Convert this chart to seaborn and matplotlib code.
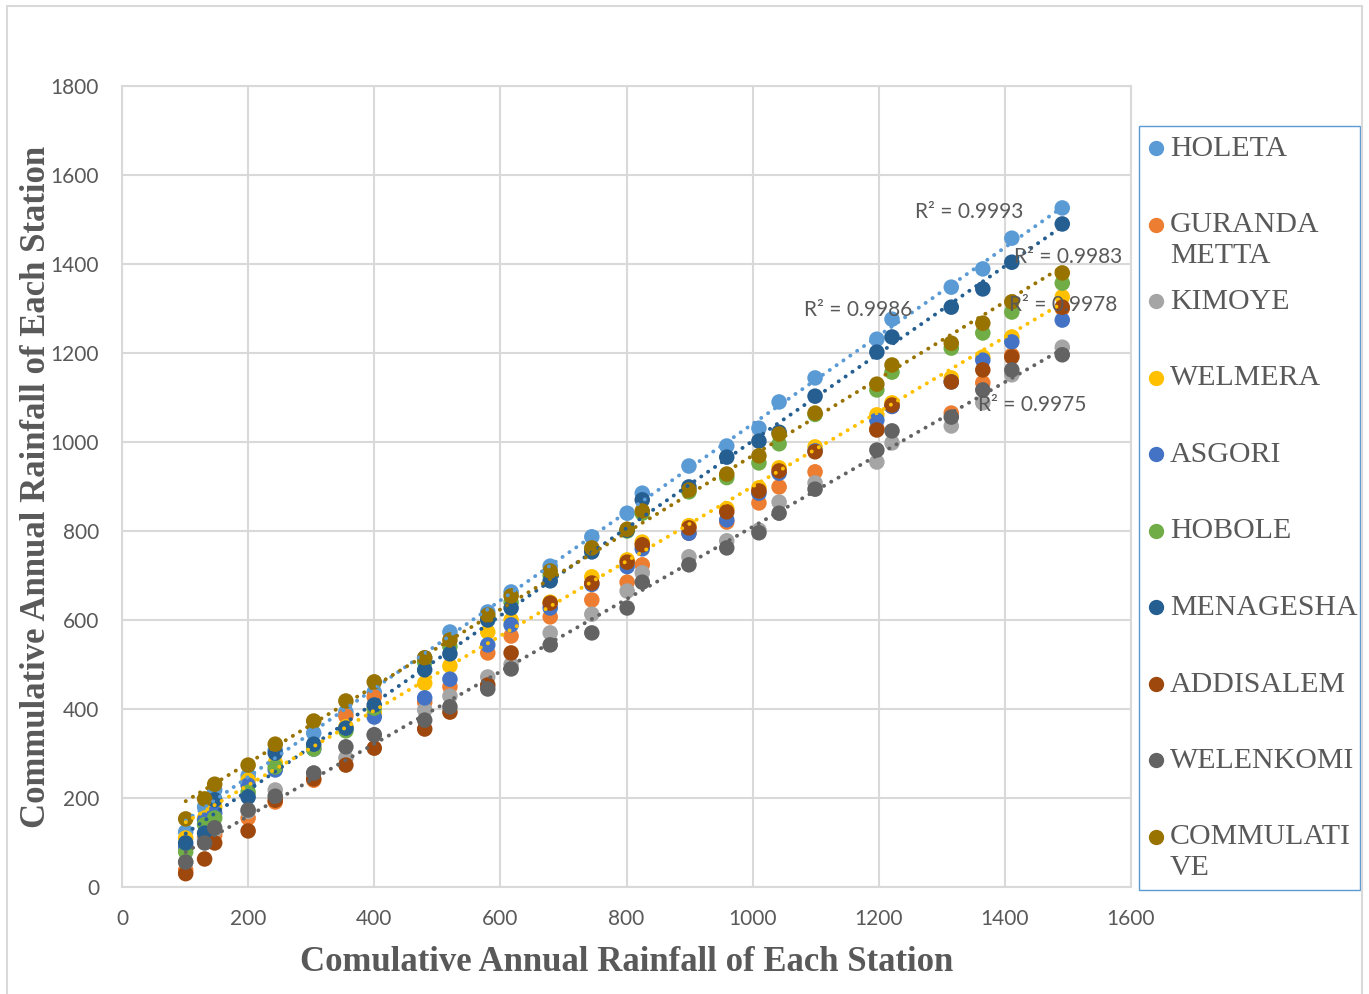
import numpy as np
import pandas as pd
import matplotlib
matplotlib.use("Agg")
import matplotlib.pyplot as plt
from matplotlib.lines import Line2D
from matplotlib.patches import Rectangle
import seaborn as sns

# ---------------- data ----------------
x_cum = [101, 131, 147, 200, 243, 304, 355, 400, 480, 520, 580, 617, 679, 745,
         801, 825, 899, 959, 1010, 1042, 1099, 1197, 1221, 1315, 1365, 1411, 1491]

holeta = [124, 180, 218, 250, 308, 346, 393, 438, 515, 573, 618, 663, 721, 787,
          840, 885, 946, 991, 1031, 1090, 1144, 1231, 1276, 1348, 1389, 1458, 1526]
guranda = [38, 110, 117, 155, 191, 240, 384, 427, 415, 450, 526, 564, 607, 645,
           685, 724, 795, 820, 863, 899, 933, 1030, 1080, 1065, 1133, 1195, 1300]
kimoye = [56, 105, 128, 170, 218, 256, 290, 342, 398, 429, 472, 500, 571, 613,
          665, 706, 742, 778, 802, 865, 908, 955, 998, 1036, 1088, 1151, 1213]
welmera = [110, 155, 180, 240, 279, 315, 360, 391, 458, 497, 573, 600, 640, 697,
           735, 775, 812, 850, 897, 942, 989, 1061, 1088, 1144, 1191, 1236, 1326]
asgori = [90, 150, 166, 229, 263, 310, 355, 382, 425, 467, 544, 589, 627, 680,
          720, 760, 795, 825, 885, 930, 980, 1049, 1080, 1135, 1184, 1225, 1274]
hobole = [79, 140, 155, 213, 270, 310, 351, 402, 505, 540, 605, 640, 700, 755,
          800, 840, 888, 920, 953, 996, 1062, 1117, 1157, 1211, 1245, 1292, 1357]
menagesha = [99, 121, 196, 202, 301, 321, 357, 409, 488, 524, 600, 627, 688, 753,
             802, 870, 899, 966, 1002, 1022, 1103, 1202, 1236, 1303, 1344, 1404, 1490]
addisalem = [30, 63, 99, 126, 195, 243, 274, 312, 355, 393, 454, 526, 638, 683,
             730, 769, 807, 843, 890, 935, 978, 1027, 1083, 1135, 1162, 1191, 1303]
welenkomi = [56, 99, 133, 173, 204, 256, 315, 342, 375, 405, 445, 490, 544, 571,
             627, 685, 724, 762, 796, 840, 894, 982, 1025, 1056, 1117, 1162, 1196]
commulative = [153, 198, 231, 274, 321, 373, 418, 461, 515, 555, 611, 654, 710, 762,
               804, 845, 892, 928, 969, 1018, 1065, 1130, 1173, 1222, 1267, 1315, 1380]

station_names = ["HOLETA", "GURANDA METTA", "KIMOYE", "WELMERA", "ASGORI",
                 "HOBOLE", "MENAGESHA", "ADDISALEM", "WELENKOMI", "COMMULATIVE"]
legend_labels = ["HOLETA", "GURANDA\nMETTA", "KIMOYE", "WELMERA", "ASGORI",
                 "HOBOLE", "MENAGESHA", "ADDISALEM", "WELENKOMI", "COMMULATI\nVE"]
series_values = [holeta, guranda, kimoye, welmera, asgori, hobole, menagesha,
                 addisalem, welenkomi, commulative]
colors = ["#5B9BD5", "#ED7D31", "#A5A5A5", "#FFC000", "#4472C4", "#70AD47",
          "#255E91", "#9E480E", "#636363", "#997300"]

trend_stations = ["HOLETA", "MENAGESHA", "COMMULATIVE", "WELMERA", "WELENKOMI"]
r2_labels = ["R² = 0.9993", "R² = 0.9983", "R² = 0.9986", "R² = 0.9978", "R² = 0.9975"]
r2_pos = [(1343, 1517), (1500, 1416), (1167, 1297), (1492, 1308), (1443, 1083)]

x_ticks = [0, 200, 400, 600, 800, 1000, 1200, 1400, 1600]
y_ticks = [0, 200, 400, 600, 800, 1000, 1200, 1400, 1600, 1800]

# ---------------- build frame ----------------
rows = []
for name, vals in zip(station_names, series_values):
    for xv, yv in zip(x_cum, vals):
        rows.append({"x": xv, "y": yv, "station": name})
df = pd.DataFrame(rows)
palette = dict(zip(station_names, colors))

# ---------------- plot ----------------
sns.set_theme(style="white")
plt.rcParams["font.family"] = ["Lato", "DejaVu Sans"]

W, H = 1369, 994
fig = plt.figure(figsize=(13.69, 9.94), dpi=100)
ax = fig.add_axes([122 / W, 1 - 887 / H, (1131 - 122) / W, (887 - 86) / H])

sns.scatterplot(data=df, x="x", y="y", hue="station", hue_order=station_names,
                palette=palette, s=125, linewidth=0, alpha=1.0, legend=False,
                ax=ax, zorder=3)

for name in trend_stations:
    sub = df[df["station"] == name]
    sns.regplot(data=sub, x="x", y="y", scatter=False, ci=None, truncate=True, ax=ax,
                line_kws=dict(color=palette[name], linewidth=2.8,
                              linestyle=(0, (0.05, 2.1)), dash_capstyle="round",
                              zorder=5))

for lab, (px, py) in zip(r2_labels, r2_pos):
    ax.text(px, py, lab, ha="center", va="center", fontsize=15,
            color="#595959", zorder=6)

ax.set_xlim(0, 1600)
ax.set_ylim(0, 1800)
ax.set_xticks(x_ticks)
ax.set_yticks(y_ticks)
ax.grid(True, color="#D9D9D9", linewidth=1.5)
ax.set_axisbelow(True)
for sp in ax.spines.values():
    sp.set_color("#D9D9D9")
    sp.set_linewidth(1.5)
ax.tick_params(axis="both", length=0, labelsize=15, labelcolor="#595959")
ax.tick_params(axis="y", pad=16.5)
ax.tick_params(axis="x", pad=16)

serif = ["Liberation Serif", "DejaVu Serif"]
ax.set_xlabel("Comulative Annual Rainfall of Each Station", fontsize=25,
              fontweight="bold", color="#595959", family=serif)
ax.set_ylabel("Commulative Annual Rainfall of Each Station", fontsize=25,
              fontweight="bold", color="#595959", family=serif)
ax.xaxis.set_label_coords(0.5, -(946 - 887) / (887 - 86))
ax.yaxis.set_label_coords((53 - 122) / (1131 - 122), 0.5)

# ---------------- legend (manual layout) ----------------
fig.add_artist(Rectangle((1139 / W, 1 - 890 / H), (1360 - 1139) / W, (890 - 126) / H,
                         transform=fig.transFigure, fill=False,
                         edgecolor="#5B9BD5", linewidth=1.0))
y0 = 148
step = 76.5
for i, (lab, col) in enumerate(zip(legend_labels, colors)):
    yc = y0 + i * step
    fig.add_artist(Line2D([1156 / W], [1 - yc / H], transform=fig.transFigure,
                          marker="o", markersize=10, color=col, linestyle="none"))
    fig.text(1170 / W, 1 - (yc - 12) / H, lab, ha="left", va="top",
             fontsize=21.5, color="#595959", family=serif, linespacing=1.22)

# outer chart border
fig.add_artist(Rectangle((7 / W, -0.02), (1362 - 7) / W, 1.02 - 6 / H,
                         transform=fig.transFigure, fill=False,
                         edgecolor="#D9D9D9", linewidth=1.5))

fig.savefig("out.png", dpi=100)
